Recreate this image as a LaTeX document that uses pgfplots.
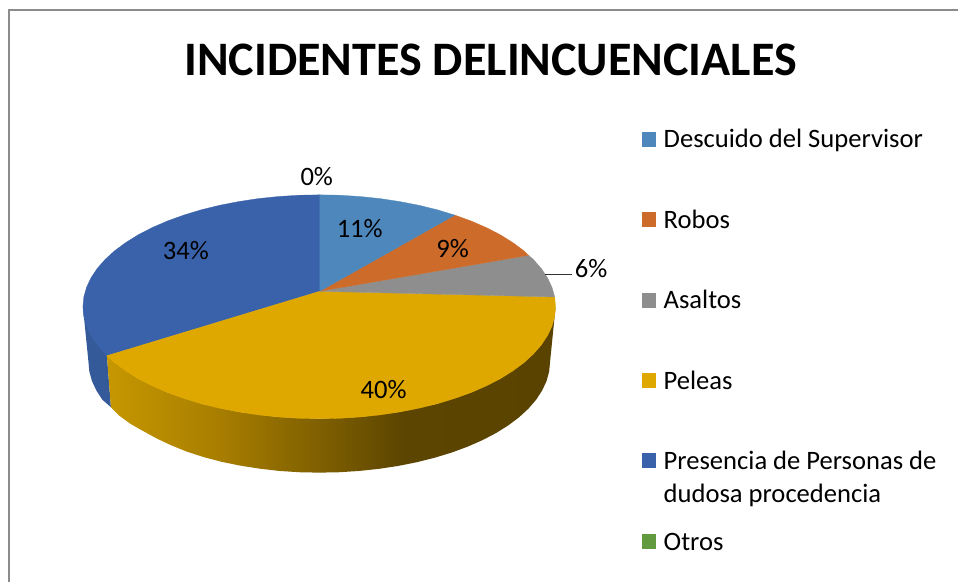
\documentclass[border=0pt]{standalone}
\usepackage{pgfplots}
\pgfplotsset{compat=1.18}
\usepackage{fontspec}
\setmainfont{Carlito}
\definecolor{cA}{HTML}{4E87BB}
\definecolor{cB}{HTML}{CD6C2A}
\definecolor{cC}{HTML}{8E8E8E}
\definecolor{cD}{HTML}{DFA800}
\definecolor{cE}{HTML}{3A62AA}
\definecolor{cF}{HTML}{629B3F}
\definecolor{cEs}{HTML}{355A99}
\definecolor{g0}{HTML}{C69700}
\definecolor{g1}{HTML}{A87E00}
\definecolor{g2}{HTML}{7A5C00}
\definecolor{g3}{HTML}{5C4500}
\definecolor{g4}{HTML}{5A4300}
\pgfdeclarehorizontalshading{goldside}{100bp}{
 color(0bp)=(g0);
 color(25bp)=(g0);
 color(37.5bp)=(g1);
 color(50bp)=(g2);
 color(58bp)=(g3);
 color(75bp)=(g4);
 color(100bp)=(g4)}
\newcommand{\lab}{\fontsize{26.6}{26.6}\selectfont}
\begin{document}
\begin{tikzpicture}
\begin{axis}[
  scale only axis, width=959pt, height=582pt,
  xmin=0, xmax=959, ymin=0, ymax=582, y dir=reverse,
  hide axis, clip=false]
\addplot[fill=white,draw=none] coordinates {(0,0)(959,0)(959,582)(0,582)} -- cycle;
\addplot[draw=black!45!white,line width=1.5pt] coordinates {(9,582)(9,10)(959,10)};
% sides
\addplot[fill=cEs,draw=none] coordinates {(83,307)(88.5,362)(89.4,371.7)(92,381.3)(96.4,390.7)(102.4,400)(111,407.5)(107,356)} -- cycle;
\addplot[draw=none,shading=goldside] coordinates {(556,307)(552.4,326.4)(541.7,345.3)(524.3,363)(500.7,379)(471.5,392.8)(437.75,404)(400.4,412.2)(360.6,417.3)(319.5,419)(278.4,417.3)(238.6,412.2)(201.25,404)(167.5,392.8)(138.3,379)(114.7,363)(107,356)(111,407.5)(119.4,416)(130.3,424)(142.6,431)(156.2,438.5)(171,445.5)(187,452)(204,457.5)(221.9,462.2)(240.5,466)(259.7,469)(279.4,471.3)(299.4,472.6)(319.5,473)(339.6,472.6)(359.6,471.3)(379.3,469.2)(398.5,466.3)(417.1,462.6)(435,458.1)(452,452.9)(468,447)(482.8,440.5)(496.4,433.4)(508.7,425.7)(519.6,417.5)(528.9,408.9)(536.6,400)(542.6,390.7)(547,381.3)(549.6,371.7)(550.5,362)} -- cycle;
% top slices
\addplot[fill=cE,draw=cE,line width=0.3pt] coordinates {(320,291.5)(107,356)(97.3,345.3)(91.1,336)(86.6,326.4)(83.9,316.8)(83,307)(83.9,297.2)(86.6,287.6)(91.1,278)(97.3,268.7)(105.2,259.7)(114.7,251)(125.8,242.8)(138.3,235)(152.3,227.8)(167.5,221.2)(183.8,215.3)(201.25,210)(219.6,205.5)(238.6,201.8)(258.3,198.8)(278.4,196.7)(298.9,195.4)(320,195)} -- cycle;
\addplot[fill=cD,draw=cD,line width=0.3pt] coordinates {(320,291.5)(555.1,297.2)(556,307)(555.1,316.8)(552.4,326.4)(547.9,336)(541.7,345.3)(533.8,354.3)(524.3,363)(513.2,371.2)(500.7,379)(486.7,386.2)(471.5,392.8)(455.2,398.7)(437.75,404)(419.4,408.5)(400.4,412.2)(380.7,415.2)(360.6,417.3)(340.1,418.6)(319.5,419)(298.9,418.6)(278.4,417.3)(258.3,415.2)(238.6,412.2)(219.6,408.5)(201.25,404)(183.8,398.7)(167.5,392.8)(152.3,386.2)(138.3,379)(125.8,371.2)(114.7,363)(107,356)} -- cycle;
\addplot[fill=cC,draw=cC,line width=0.3pt] coordinates {(320,291.5)(529,255.5)(533.8,259.7)(541.7,268.7)(547.9,278)(552.4,287.6)(555.1,297.2)} -- cycle;
\addplot[fill=cB,draw=cB,line width=0.3pt] coordinates {(320,291.5)(455.2,215.3)(471.5,221.2)(486.7,227.8)(500.7,235)(513.2,242.8)(524.3,251)(529,255.5)} -- cycle;
\addplot[fill=cA,draw=cA,line width=0.3pt] coordinates {(320,291.5)(320,195)(340.1,195.4)(360.6,196.7)(380.7,198.8)(400.4,201.8)(419.4,205.5)(437.75,210)(455.2,215.3)} -- cycle;
% leader line
\addplot[draw=black!80!white,line width=1pt] coordinates {(545,274.7)(572,274.7)};
% legend keys
\addplot[fill=cA,draw=none] coordinates {(642,132)(657,132)(657,147)(642,147)} -- cycle;
\addplot[fill=cB,draw=none] coordinates {(642,212)(657,212)(657,227)(642,227)} -- cycle;
\addplot[fill=cC,draw=none] coordinates {(642,293)(657,293)(657,308)(642,308)} -- cycle;
\addplot[fill=cD,draw=none] coordinates {(642,373.5)(657,373.5)(657,388.5)(642,388.5)} -- cycle;
\addplot[fill=cE,draw=none] coordinates {(642,453)(657,453)(657,468)(642,468)} -- cycle;
\addplot[fill=cF,draw=none] coordinates {(642,534)(657,534)(657,549)(642,549)} -- cycle;
% text
\node[anchor=base,inner sep=0pt] at (axis cs:491,75.5) {\fontsize{48.1}{48.1}\selectfont\bfseries INCIDENTES DELINCUENCIALES};
\node[anchor=base west,inner sep=0pt] at (axis cs:664,148) {\lab Descuido del Supervisor};
\node[anchor=base west,inner sep=0pt] at (axis cs:664,228.5) {\lab Robos};
\node[anchor=base west,inner sep=0pt] at (axis cs:664,309) {\lab Asaltos};
\node[anchor=base west,inner sep=0pt] at (axis cs:664,390) {\lab Peleas};
\node[anchor=base west,inner sep=0pt] at (axis cs:664,470) {\lab Presencia de Personas de};
\node[anchor=base west,inner sep=0pt] at (axis cs:664,503) {\lab dudosa procedencia};
\node[anchor=base west,inner sep=0pt] at (axis cs:664,550.5) {\lab Otros};
\node[anchor=base,inner sep=0pt] at (axis cs:317,185.5) {\lab 0\%};
\node[anchor=base,inner sep=0pt] at (axis cs:360,237.5) {\lab 11\%};
\node[anchor=base,inner sep=0pt] at (axis cs:453,258) {\lab 9\%};
\node[anchor=base,inner sep=0pt] at (axis cs:591.5,277.5) {\lab 6\%};
\node[anchor=base,inner sep=0pt] at (axis cs:384,398.5) {\lab 40\%};
\node[anchor=base,inner sep=0pt] at (axis cs:186,259.5) {\lab 34\%};
\end{axis}
\end{tikzpicture}
\end{document}
